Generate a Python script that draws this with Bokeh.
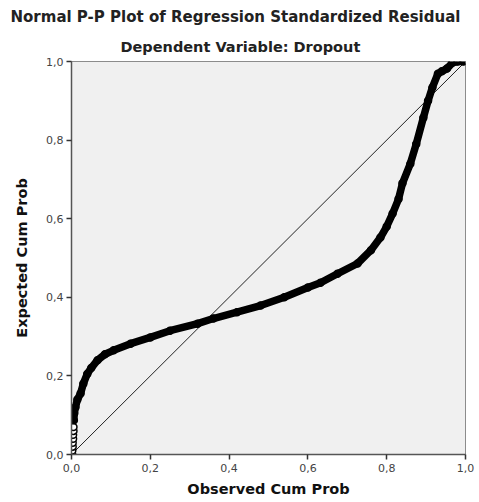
from bokeh.plotting import figure
from bokeh.models import FixedTicker, Title, ColumnDataSource
from bokeh.embed import file_html
from bokeh.resources import INLINE

# Observed vs expected cumulative probabilities
observed_cum_prob = [0.002, 0.002, 0.003, 0.003, 0.004, 0.004, 0.005, 0.005, 0.006, 0.007,
                     0.01, 0.015, 0.023, 0.03, 0.04, 0.05, 0.066, 0.085, 0.107, 0.15,
                     0.2, 0.25, 0.32, 0.36, 0.42, 0.48, 0.54, 0.6, 0.632, 0.675,
                     0.726, 0.76, 0.784, 0.80, 0.815, 0.83, 0.84, 0.86, 0.875, 0.893,
                     0.905, 0.916, 0.93, 0.94, 0.953, 0.967, 0.98, 0.995]
expected_cum_prob = [0.0, 0.01, 0.02, 0.03, 0.04, 0.05, 0.06, 0.07, 0.087, 0.105,
                     0.12, 0.14, 0.155, 0.18, 0.205, 0.22, 0.24, 0.255, 0.265, 0.282,
                     0.298, 0.315, 0.333, 0.346, 0.362, 0.379, 0.40, 0.425, 0.437, 0.46,
                     0.486, 0.52, 0.552, 0.58, 0.613, 0.65, 0.69, 0.74, 0.79, 0.857,
                     0.90, 0.934, 0.969, 0.975, 0.982, 0.997, 1.0, 1.0]
diag = [0.0, 1.0]
tick_values = [0.0, 0.2, 0.4, 0.6, 0.8, 1.0]
tick_labels = ["0,0", "0,2", "0,4", "0,6", "0,8", "1,0"]

FONT = "DejaVu Sans"

p = figure(width=479, height=502, output_backend="svg", toolbar_location=None,
           x_range=(0, 1), y_range=(0, 1),
           min_border_left=71, min_border_right=14, min_border_top=20, min_border_bottom=48)

p.title.text = "Normal P-P Plot of Regression Standardized Residual"
p.title.align = "left"
p.title.text_font = FONT
p.title.text_font_size = "15px"
p.title.text_font_style = "bold"
p.title.text_color = "#222222"
p.title.offset = -61
p.add_layout(Title(text="Dependent Variable: Dropout", align="left", offset=49,
                   standoff=13,
                   text_font=FONT, text_font_size="14.5px", text_font_style="bold",
                   text_color="#222222"), "above")

p.background_fill_color = "#f0f0f0"
p.border_fill_color = "white"
p.outline_line_color = "#8c8c8c"
p.outline_line_width = 1
p.xgrid.visible = False
p.ygrid.visible = False

for ax in (p.xaxis[0], p.yaxis[0]):
    ax.ticker = FixedTicker(ticks=tick_values)
    ax.major_label_overrides = {v: l for v, l in zip(tick_values, tick_labels)}
    ax.minor_tick_line_color = None
    ax.major_tick_in = 0
    ax.major_tick_out = 5
    ax.major_tick_line_color = "#333333"
    ax.major_tick_line_width = 1.5
    ax.axis_line_color = "#555555"
    ax.axis_line_width = 1.5
    ax.major_label_text_font = FONT
    ax.major_label_text_font_size = "11px"
    ax.major_label_text_color = "#444444"
    ax.axis_label_text_font = FONT
    ax.axis_label_text_font_size = "14.5px"
    ax.axis_label_text_font_style = "bold"
    ax.axis_label_text_color = "#111111"

p.xaxis.axis_label = "Observed Cum Prob"
p.yaxis.axis_label = "Expected Cum Prob"
p.xaxis.major_label_standoff = 4
p.yaxis.major_label_standoff = 3
p.xaxis.axis_label_standoff = 6
p.yaxis.axis_label_standoff = 13

p.line(diag, diag, line_color="#222222", line_width=1)

src = ColumnDataSource(dict(x=observed_cum_prob, y=expected_cum_prob))
line_src = ColumnDataSource(dict(x=observed_cum_prob[8:], y=expected_cum_prob[8:]))
p.scatter("x", "y", source=src, marker="circle", size=7, fill_color="white",
          line_color="black", line_width=1.5)
p.line("x", "y", source=line_src, line_color="black", line_width=7.5, line_join="round", line_cap="round")

open("out.html", "w").write(file_html(p, INLINE))
